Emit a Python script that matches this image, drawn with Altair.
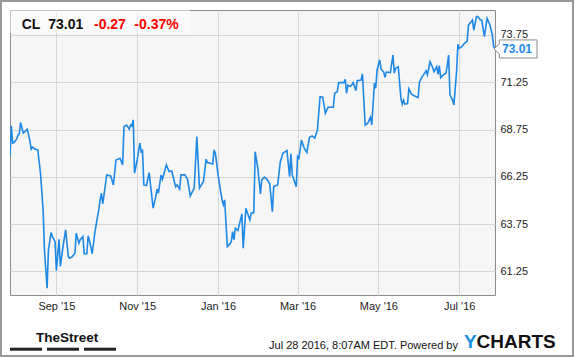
import altair as alt
import pandas as pd

# ---------------- data ----------------
dates = [
    "2015-07-28", "2015-07-29", "2015-07-30", "2015-07-31", "2015-08-02", "2015-08-03", "2015-08-04", "2015-08-05",
    "2015-08-07", "2015-08-08", "2015-08-10", "2015-08-12", "2015-08-13", "2015-08-14", "2015-08-16", "2015-08-18",
    "2015-08-20", "2015-08-22", "2015-08-23", "2015-08-25", "2015-08-26", "2015-08-28", "2015-08-29", "2015-08-31",
    "2015-09-01", "2015-09-03", "2015-09-04", "2015-09-06", "2015-09-08", "2015-09-10", "2015-09-11", "2015-09-13",
    "2015-09-15", "2015-09-16", "2015-09-18", "2015-09-19", "2015-09-21", "2015-09-22", "2015-09-24", "2015-09-25",
    "2015-09-27", "2015-09-28", "2015-09-30", "2015-10-01", "2015-10-03", "2015-10-04", "2015-10-05", "2015-10-06",
    "2015-10-09", "2015-10-12", "2015-10-14", "2015-10-16", "2015-10-19", "2015-10-21", "2015-10-22", "2015-10-24",
    "2015-10-26", "2015-10-27", "2015-10-28", "2015-10-29", "2015-10-30", "2015-11-01", "2015-11-03", "2015-11-04",
    "2015-11-05", "2015-11-06", "2015-11-08", "2015-11-10", "2015-11-13", "2015-11-15", "2015-11-16", "2015-11-17",
    "2015-11-19", "2015-11-20", "2015-11-23", "2015-11-25", "2015-11-27", "2015-11-30", "2015-12-01", "2015-12-03",
    "2015-12-04", "2015-12-07", "2015-12-09", "2015-12-11", "2015-12-14", "2015-12-16", "2015-12-18", "2015-12-21",
    "2015-12-23", "2015-12-24", "2015-12-28", "2015-12-29", "2015-12-30", "2016-01-01", "2016-01-04", "2016-01-05",
    "2016-01-06", "2016-01-08", "2016-01-10", "2016-01-11", "2016-01-12", "2016-01-13", "2016-01-14", "2016-01-16",
    "2016-01-19", "2016-01-20", "2016-01-22", "2016-01-25", "2016-01-26", "2016-01-28", "2016-01-29", "2016-01-31",
    "2016-02-02", "2016-02-03", "2016-02-05", "2016-02-07", "2016-02-09", "2016-02-11", "2016-02-12", "2016-02-15",
    "2016-02-17", "2016-02-19", "2016-02-22", "2016-02-24", "2016-02-25", "2016-02-26", "2016-02-29", "2016-03-01",
    "2016-03-02", "2016-03-04", "2016-03-06", "2016-03-08", "2016-03-10", "2016-03-12", "2016-03-14", "2016-03-16",
    "2016-03-18", "2016-03-20", "2016-03-22", "2016-03-24", "2016-03-28", "2016-03-29", "2016-03-31", "2016-04-01",
    "2016-04-05", "2016-04-06", "2016-04-07", "2016-04-08", "2016-04-10", "2016-04-12", "2016-04-14", "2016-04-15",
    "2016-04-18", "2016-04-19", "2016-04-21", "2016-04-23", "2016-04-25", "2016-04-26", "2016-04-28", "2016-04-29",
    "2016-04-30", "2016-05-02", "2016-05-03", "2016-05-05", "2016-05-06", "2016-05-07", "2016-05-10", "2016-05-11",
    "2016-05-12", "2016-05-13", "2016-05-14", "2016-05-16", "2016-05-18", "2016-05-19", "2016-05-20", "2016-05-21",
    "2016-05-23", "2016-05-24", "2016-05-26", "2016-05-28", "2016-05-31", "2016-06-01", "2016-06-03", "2016-06-04",
    "2016-06-06", "2016-06-07", "2016-06-09", "2016-06-11", "2016-06-12", "2016-06-14", "2016-06-15", "2016-06-16",
    "2016-06-17", "2016-06-19", "2016-06-21", "2016-06-22", "2016-06-23", "2016-06-24", "2016-06-26", "2016-06-27",
    "2016-06-29", "2016-06-30", "2016-07-01", "2016-07-03", "2016-07-05", "2016-07-07", "2016-07-08", "2016-07-10",
    "2016-07-11", "2016-07-12", "2016-07-14", "2016-07-15", "2016-07-17", "2016-07-18", "2016-07-20", "2016-07-22",
    "2016-07-24", "2016-07-26", "2016-07-27", "2016-07-28",
]
prices = [
    67.32, 68.94, 68.03, 68.06, 68.24, 68.45, 68.52, 69.12,
    68.56, 68.62, 68.77, 68.16, 67.71, 67.82, 67.71, 67.67,
    66.44, 64.50, 62.39, 60.36, 62.39, 63.30, 63.09, 62.83,
    61.29, 62.95, 61.51, 62.56, 63.44, 62.03, 61.95, 62.03,
    62.21, 63.27, 62.74, 62.92, 63.09, 62.18, 62.18, 63.13,
    62.56, 62.18, 63.27, 63.71, 64.50, 65.03, 65.38, 64.82,
    66.35, 66.30, 65.82, 67.14, 67.23, 66.88, 68.90, 68.99,
    68.77, 68.99, 68.94, 69.26, 66.44, 67.14, 68.03, 67.58,
    67.64, 65.82, 65.79, 66.47, 64.59, 65.20, 65.60, 65.38,
    66.35, 66.12, 66.88, 66.53, 66.56, 65.73, 65.82, 65.60,
    66.35, 66.35, 66.12, 65.24, 65.65, 68.38, 65.65, 66.00,
    67.18, 67.00, 66.93, 67.67, 67.50, 66.35, 65.03, 64.77,
    65.03, 62.56, 62.70, 62.83, 63.35, 62.92, 63.53, 63.41,
    64.29, 62.48, 64.59, 63.97, 64.33, 64.36, 67.58, 66.71,
    65.35, 66.09, 66.23, 66.12, 65.88, 64.41, 65.73, 65.82,
    67.05, 67.50, 67.64, 66.26, 67.46, 66.35, 65.73, 67.32,
    67.23, 68.20, 67.76, 67.53, 68.34, 68.41, 68.29, 68.73,
    70.49, 70.46, 69.61, 69.93, 69.93, 70.67, 70.75, 71.23,
    71.23, 71.41, 70.67, 71.09, 71.02, 71.23, 70.81, 71.33,
    71.37, 71.69, 68.99, 69.08, 69.40, 68.99, 71.20, 70.93,
    71.90, 72.43, 71.94, 71.79, 71.51, 71.79, 71.76, 72.22,
    72.69, 71.73, 71.99, 72.07, 70.40, 70.09, 70.31, 70.09,
    70.12, 70.90, 70.62, 70.54, 70.44, 71.25, 71.55, 71.64,
    71.85, 71.64, 72.34, 72.02, 71.81, 72.07, 71.67, 72.13,
    71.49, 71.64, 71.73, 72.16, 72.69, 70.58, 70.31, 70.05,
    71.81, 73.26, 73.05, 73.13, 73.31, 73.43, 74.28, 74.45,
    74.54, 74.01, 74.72, 74.72, 74.54, 74.54, 73.66, 74.63,
    74.32, 73.75, 73.13, 73.01,
]
y_ticks = [61.25, 63.75, 66.25, 68.75, 71.25, 73.75]
x_ticks = ["2015-09-01", "2015-11-01", "2016-01-01", "2016-03-01", "2016-05-01", "2016-07-01"]
header = ["CL", "73.01", "-0.27", "-0.37%"]
footer_left = ["TheStreet"]
footer_right = ["Jul 28 2016, 8:07AM EDT.  Powered by", "Y", "CHARTS"]

# ---------------- styles ----------------
FONT = "Liberation Sans, Arial, Helvetica, sans-serif"
BLUE = "#1e88e5"
W, H = 485, 285

df = pd.DataFrame({"date": dates, "price": prices})
last = df.tail(1)


def dt(s):
    y, m, d = (int(p) for p in s.split("-"))
    return alt.DateTime(year=y, month=m, date=d, utc=True)


x_enc = alt.X(
    "date:T",
    scale=alt.Scale(type="utc", domain=[dt(dates[0]), dt(dates[-1])]),
    axis=alt.Axis(
        values=[dt(s) for s in x_ticks],
        labelExpr="utcFormat(datum.value, \"%b '%y\")",
        title=None, ticks=False, domain=False, grid=True,
        gridColor="#d6d6d6", gridWidth=1,
        labelFont=FONT, labelFontSize=11, labelColor="#222",
        labelPadding=5, labelFlush=False,
    ),
)
y_enc = alt.Y(
    "price:Q",
    scale=alt.Scale(domain=[60.0, 75.07], zero=False, nice=False),
    axis=alt.Axis(
        orient="right", values=y_ticks, format=".2f", title=None,
        ticks=False, domain=False, grid=True, gridColor="#d6d6d6", gridWidth=1,
        labelFont=FONT, labelFontSize=11, labelColor="#222", labelPadding=5,
    ),
)

line = alt.Chart(df).mark_line(color=BLUE, strokeWidth=1.6, clip=True).encode(x=x_enc, y=y_enc)


def one(label):
    return alt.Chart(pd.DataFrame({"t": [label]}))


# title box
title_box = one("box").mark_rect(fill="white", opacity=0.5).encode(
    x=alt.value(0), x2=alt.value(180), y=alt.value(0), y2=alt.value(23)
)

title_layers = []
hx = [11.7, 38.3, 84, 124.3]
hcol = ["#111", "#111", "#ff0000", "#ff0000"]
for txt, xx, cc in zip(header, hx, hcol):
    title_layers.append(
        one(txt).mark_text(
            font=FONT, fontSize=14, fontWeight="bold", color=cc,
            align="left", baseline="alphabetic",
        ).encode(text="t:N", x=alt.value(xx), y=alt.value(19.3))
    )

# price tag on right
TAG = "M-1,0 L-0.75,-0.24 L-0.75,-0.42 L1,-0.42 L1,0.42 L-0.75,0.42 L-0.75,0.24 Z"
tag = alt.Chart(last).mark_point(
    shape=TAG, size=1849, filled=True, fill="white", stroke="#8a8a8a",
    strokeWidth=1, opacity=1,
).encode(x=alt.value(W - 1 + 21.5), y="price:Q")
tag_text = alt.Chart(last).mark_text(
    font=FONT, fontSize=12, fontWeight="bold", color=BLUE, align="center", baseline="middle",
).encode(x=alt.value(W + 22), y="price:Q", text=alt.Text("price:Q", format=".2f"))

# outer border
border = one("b").mark_rect(fillOpacity=0, stroke="#999999", strokeWidth=2).encode(
    x=alt.value(-9), x2=alt.value(563), y=alt.value(-9), y2=alt.value(346)
)

# footer
street = one(footer_left[0]).mark_text(
    font=FONT, fontSize=13.5, fontWeight="bold", color="#111", align="left", baseline="alphabetic",
).encode(text="t:N", x=alt.value(26), y=alt.value(332))
bars = [
    one("bar").mark_rect(color="#222").encode(
        x=alt.value(i * 37), x2=alt.value(i * 37 + 32), y=alt.value(337.7), y2=alt.value(340.7)
    )
    for i in range(3)
]
stamp = one(footer_right[0]).mark_text(
    font=FONT, fontSize=11, color="#111", align="right", baseline="alphabetic",
).encode(text="t:N", x=alt.value(448), y=alt.value(339))
logo_y = one(footer_right[1]).mark_text(
    font=FONT, fontSize=19, fontWeight="bold", color="#1a8fe3", align="left", baseline="alphabetic",
).encode(text="t:N", x=alt.value(454), y=alt.value(338))
logo_c = one(footer_right[2]).mark_text(
    font=FONT, fontSize=19, fontWeight="bold", color="#111", align="left", baseline="alphabetic",
).encode(text="t:N", x=alt.value(466.5), y=alt.value(338))

chart = alt.layer(
    line, title_box, *title_layers, tag, tag_text, border, street, *bars, stamp, logo_y, logo_c
).properties(
    width=W, height=H,
    autosize=alt.AutoSizeParams(type="none"),
    padding={"left": 10, "top": 10, "right": 80, "bottom": 63},
    background="white",
).configure_view(
    fill="#f6f6f6", stroke="#8c8c8c", strokeWidth=1
)

chart.save("out.html", embed_options={"renderer": "svg", "actions": False})
